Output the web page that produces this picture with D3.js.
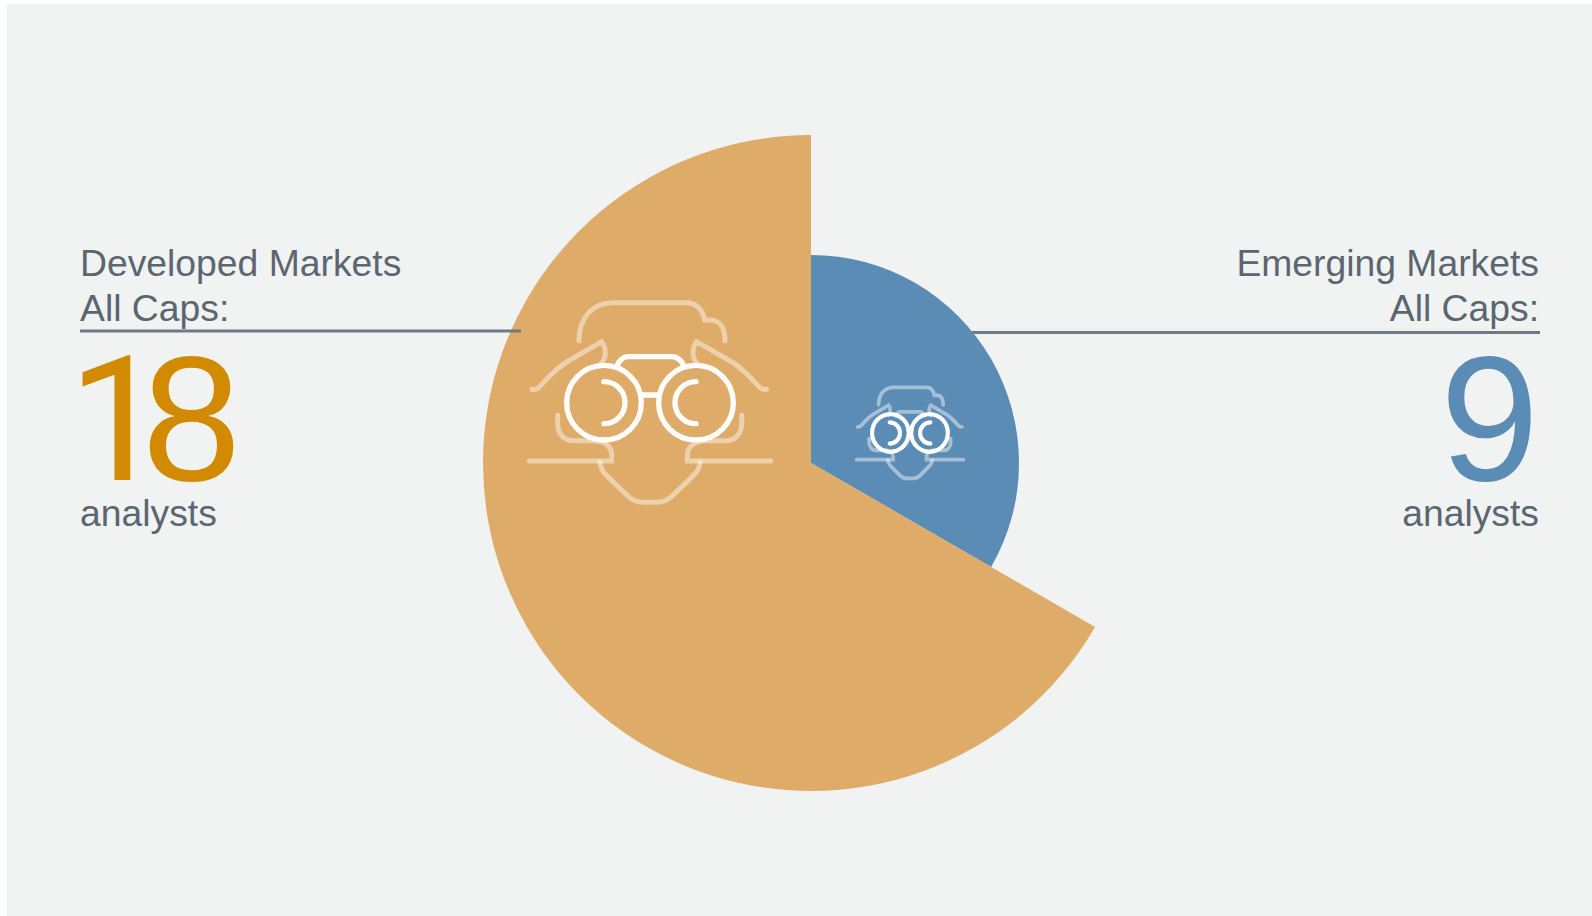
<!DOCTYPE html>
<html><head><meta charset="utf-8">
<script src="https://cdnjs.cloudflare.com/ajax/libs/d3/7.8.5/d3.min.js"></script>
<style>html,body{margin:0;padding:0;background:#fff;overflow:hidden}svg{display:block}text{font-family:"Liberation Sans",Arial,sans-serif}</style>
</head><body><svg id="c" width="1592" height="916"></svg>
<script>
const categories = ["Emerging Markets", "Developed Markets"];
const subtitle = "All Caps:";
const unit = "analysts";
const values = [9, 18];
const sliceColors = ["#5b8cb5", "#dfab68"];
const numberColors = ["#5b8cb5", "#d28a00"];

const W = 1592, H = 916, cx = 811, cy = 463;
const svg = d3.select("#c");
svg.append("rect").attr("x",7).attr("y",4).attr("width",W-7).attr("height",H-4).attr("fill","#f1f3f3");

const pie = d3.pie().sort(null).value(d=>d);
const radius = d3.scaleLinear().domain([0,18]).range([88,328]);
const arc = d3.arc().innerRadius(0);
const slices = pie(values);

// right leader sits behind the blue slice
svg.append("line").attr("x1",960).attr("x2",1540).attr("y1",332.5).attr("y2",332.5).attr("stroke","#707a83").attr("stroke-width",3);

svg.append("g").attr("transform",`translate(${cx},${cy})`).selectAll("path").data(slices).join("path")
  .attr("d",d=>arc.outerRadius(radius(d.data))(d))
  .attr("fill",(d,i)=>sliceColors[i]);

svg.append("line").attr("x1",80).attr("x2",521).attr("y1",331).attr("y2",331).attr("stroke","#707a83").attr("stroke-width",3);

// binocular figure glyph
const faintPaths = [
 "M207 182C207 110 250 68 310 68L530 68C560 68 578 90 584 120L600 120C630 120 645 145 645 182",
 "M66 328C85 330 88 320 100 308C130 275 160 250 185 237L275 185C290 205 290 235 272 252",
 "M770 328C750 330 748 320 736 308C706 275 676 250 650 237L560 185C545 205 545 235 563 252",
 "M143 405L143 430C143 465 165 482 190 482L250 482C285 482 305 500 305 525L305 543L58 543",
 "M695 405L695 430C695 465 673 482 648 482L590 482C555 482 532 500 532 525L532 543L782 543",
 "M270 548C272 565 280 578 290 587L350 645C365 660 380 667 400 667L440 667C460 667 475 660 490 645L550 587C560 578 568 565 570 548"
];
const bridge = "M322 255C330 238 340 230 355 230L485 230C500 230 512 238 520 255";
const icons = [
 {tf:"translate(510,280) scale(0.33333)", fw:15, wsw:16, fo:0.45, bridgeIn:"white", lx:[282,558], ly:368, lr:112, br:[392,448],
  inner:["M282 305A63 63 0 0 1 282 431","M558 305A63 63 0 0 0 558 431"]},
 {tf:"translate(848,377) scale(0.1477,0.152)", fw:25, wsw:28, fo:0.45, bridgeIn:"faint", lx:[287,552], ly:368, lr:124, br:[410,430],
  inner:["M282 298A70 70 0 0 1 282 438","M558 298A70 70 0 0 0 558 438"]}
];
icons.forEach(ic=>{
  const g = svg.append("g").attr("transform",ic.tf).attr("fill","none").attr("stroke-linecap","round").attr("stroke-linejoin","miter");
  g.selectAll("path.f").data(faintPaths).join("path").attr("class","f").attr("d",d=>d)
    .attr("stroke","#fff").attr("stroke-opacity",ic.fo).attr("stroke-width",ic.fw);
  g.append("path").attr("d",bridge).attr("stroke","#fff").attr("stroke-opacity",ic.bridgeIn==="white"?1:ic.fo).attr("stroke-width",ic.bridgeIn==="white"?ic.wsw:ic.fw);
  g.selectAll("circle").data(ic.lx).join("circle").attr("cx",d=>d).attr("cy",ic.ly).attr("r",ic.lr)
    .attr("stroke","#fff").attr("stroke-width",ic.wsw);
  g.append("line").attr("x1",ic.br[0]).attr("x2",ic.br[1]).attr("y1",345).attr("y2",345).attr("stroke","#fff").attr("stroke-width",ic.wsw);
  g.selectAll("path.i").data(ic.inner).join("path").attr("class","i").attr("d",d=>d).attr("stroke","#fff").attr("stroke-width",ic.wsw);
});

// labels
const textCol = "#5b6670";
const labelFont = 37.3;
const bigFont = 178;
const panels = [
 {i:1, x:80, anchor:"start"},
 {i:0, x:1539, anchor:"end"}
];
panels.forEach(p=>{
  const t = svg.append("g").attr("text-anchor",p.anchor);
  t.append("text").attr("x",p.x).attr("y",276).attr("font-size",labelFont).attr("fill",textCol).text(categories[p.i]);
  t.append("text").attr("x",p.x).attr("y",321).attr("font-size",labelFont).attr("fill",textCol).text(subtitle);
  const big = t.append("text").attr("y",479.5).attr("font-size",bigFont).attr("fill",numberColors[p.i]);
  const digits = String(values[p.i]).split("");
  if (digits.length === 2) {
    // the "1" carries no foot in the reference, so it is set in Roboto
    big.append("tspan").attr("x",p.x-12).attr("style","font-family:Roboto;font-size:175px").text(digits[0]);
    big.append("tspan").attr("x",p.x+62).text(digits[1]);
  } else {
    big.attr("x",p.x).text(digits[0]);
  }
  t.append("text").attr("x",p.x).attr("y",526).attr("font-size",labelFont).attr("fill",textCol).text(unit);
});
</script></body></html>
